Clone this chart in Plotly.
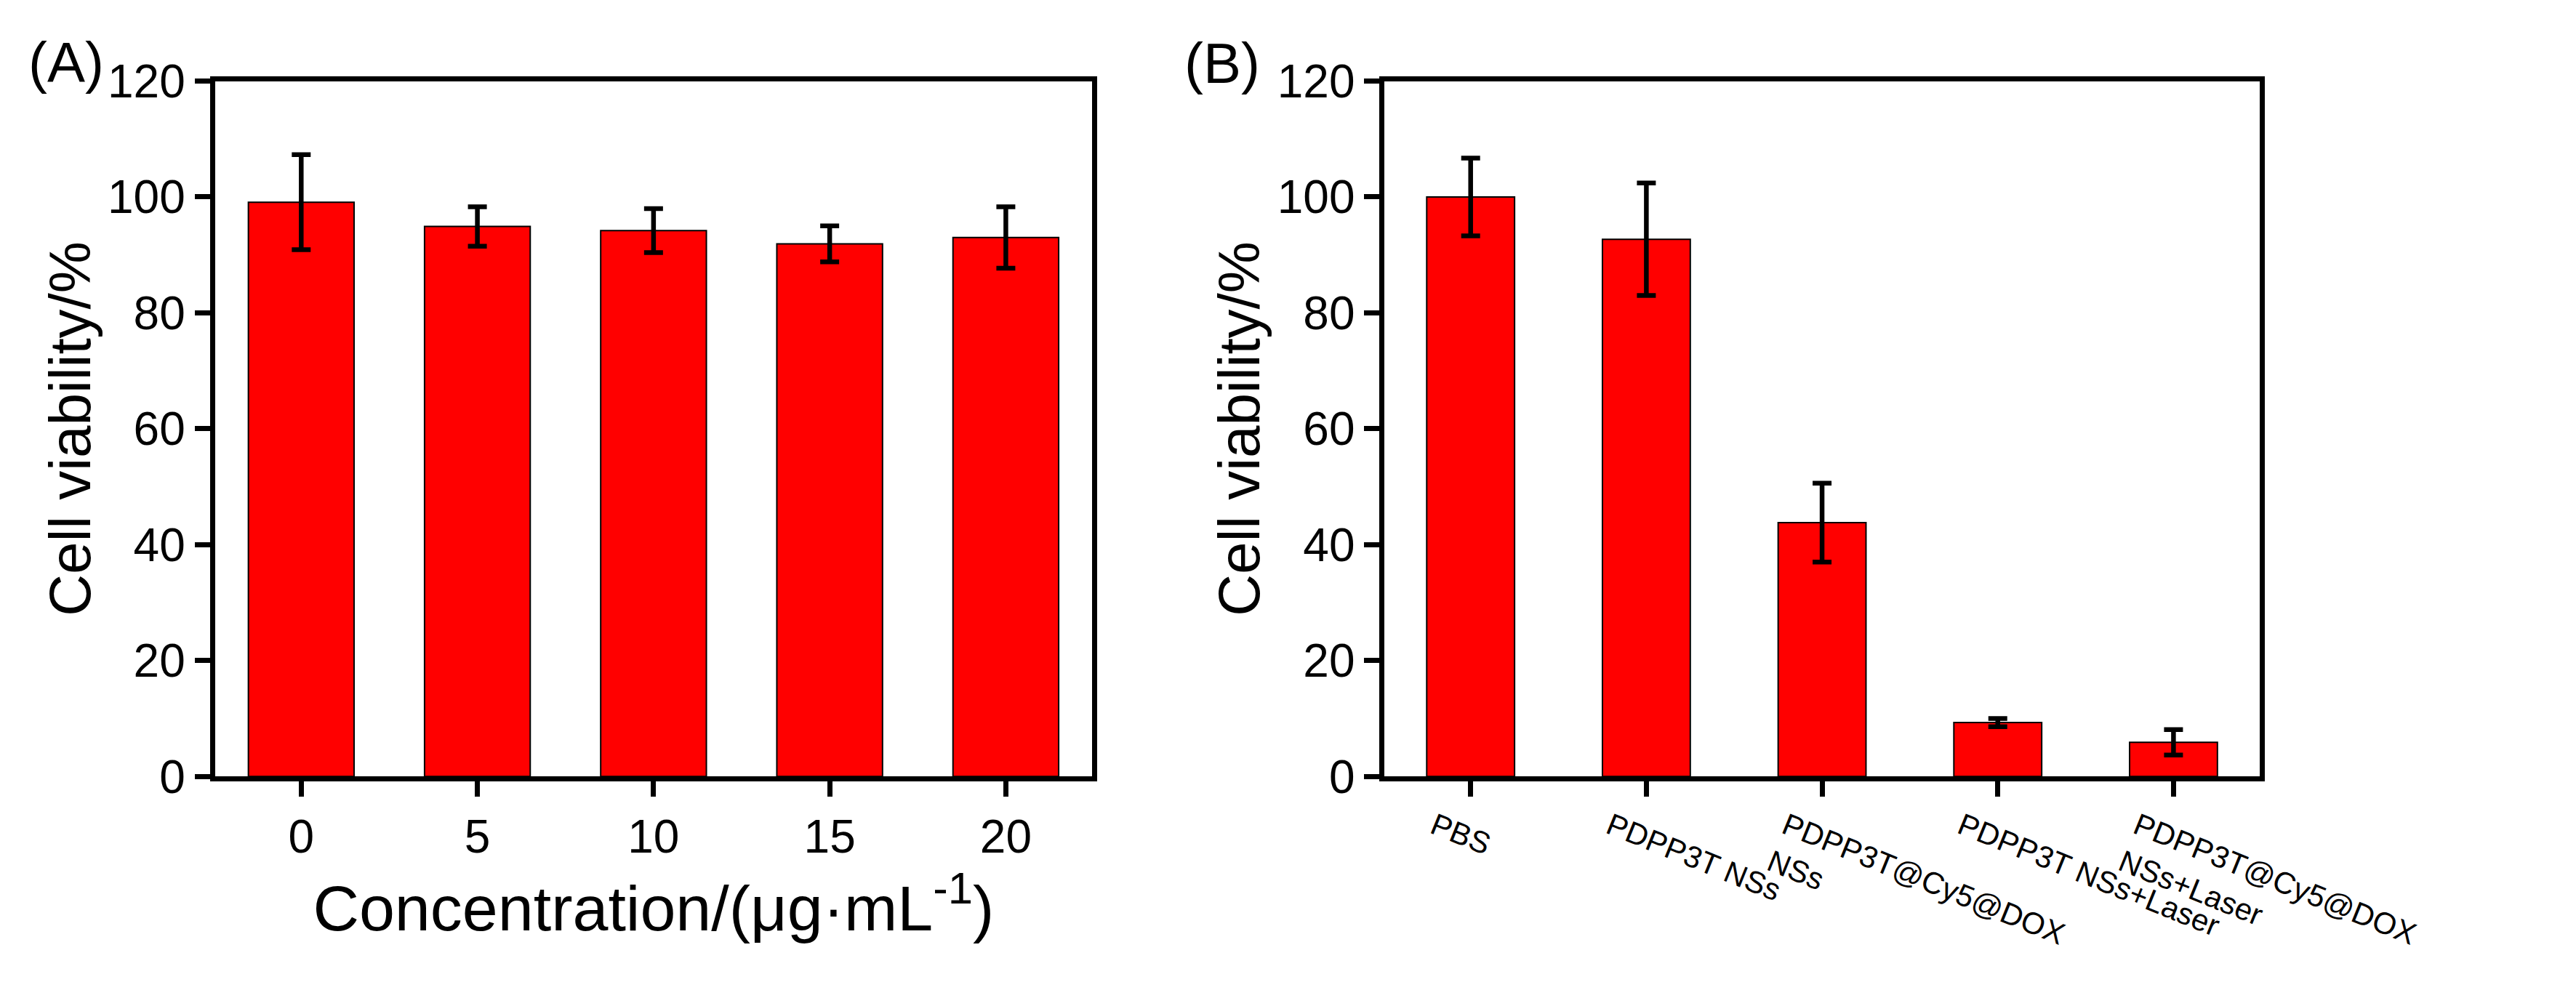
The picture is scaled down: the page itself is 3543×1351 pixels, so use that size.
import plotly.graph_objects as go

# panel A: viability vs concentration
conc_labels = ["0", "5", "10", "15", "20"]
via_a = [99.1, 94.9, 94.2, 91.9, 93.0]
err_a = [8.2, 3.4, 3.8, 3.1, 5.3]

# panel B: treatment groups
groups = ["PBS", "PDPP3T NSs", "PDPP3T@Cy5@DOX<br>NSs", "PDPP3T NSs+Laser",
          "PDPP3T@Cy5@DOX<br>NSs+Laser"]
via_b = [100.0, 92.7, 43.8, 9.3, 5.9]
err_b = [6.7, 9.7, 6.8, 0.7, 2.2]

y_ticks = [0, 20, 40, 60, 80, 100, 120]

FONT = "Liberation Sans, Arial, sans-serif"

fig = go.Figure()

fig.add_trace(go.Bar(
    x=conc_labels, y=via_a, width=0.6,
    marker=dict(color="#ff0000", line=dict(color="black", width=2)),
    error_y=dict(type="data", array=err_a, color="black", thickness=6.5, width=13),
    xaxis="x", yaxis="y", showlegend=False
))
fig.add_trace(go.Bar(
    x=groups, y=via_b, width=0.5,
    marker=dict(color="#ff0000", line=dict(color="black", width=2)),
    error_y=dict(type="data", array=err_b, color="black", thickness=6.5, width=13),
    xaxis="x2", yaxis="y2", showlegend=False
))

axis_common = dict(
    showline=True, linewidth=7, linecolor="black", mirror=True,
    ticks="outside", ticklen=21, tickwidth=7, tickcolor="black",
    showgrid=False, zeroline=False,
)

fig.update_layout(
    width=3543, height=1351,
    margin=dict(l=0, r=0, t=0, b=0),
    paper_bgcolor="white", plot_bgcolor="white",
    font=dict(family=FONT, color="black"),
    xaxis=dict(
        domain=[0.0866, 0.4499], anchor="y",
        type="category", range=[-0.49, 4.49],
        tickfont=dict(size=64),
        title=dict(text="Concentration/(μg·mL<sup>-1</sup>)", font=dict(size=88), standoff=25),
        **axis_common
    ),
    yaxis=dict(
        domain=[0.1806, 0.9460], anchor="x",
        range=[0, 120], tickvals=y_ticks,
        tickfont=dict(size=64),
        title=dict(text="Cell viability/%", font=dict(size=80), standoff=0),
        **axis_common
    ),
    xaxis2=dict(
        domain=[0.571, 0.9334], anchor="y2",
        type="category", range=[-0.49, 4.49],
        tickfont=dict(size=42), tickangle=22, ticklabelshift=-50,
        **axis_common
    ),
    yaxis2=dict(
        domain=[0.1806, 0.9460], anchor="x2",
        range=[0, 120], tickvals=y_ticks,
        tickfont=dict(size=64),
        title=dict(text="Cell viability/%", font=dict(size=80), standoff=0),
        **axis_common
    ),
    annotations=[
        dict(text="(A)", x=89 / 3543, y=1 - 45 / 1351, xref="paper", yref="paper",
             showarrow=False, font=dict(size=78), xanchor="center", yanchor="middle"),
        dict(text="(B)", x=1785 / 3543, y=1 - 46 / 1351, xref="paper", yref="paper",
             showarrow=False, font=dict(size=78), xanchor="center", yanchor="middle"),
    ],
)

fig.write_html("out.html")
